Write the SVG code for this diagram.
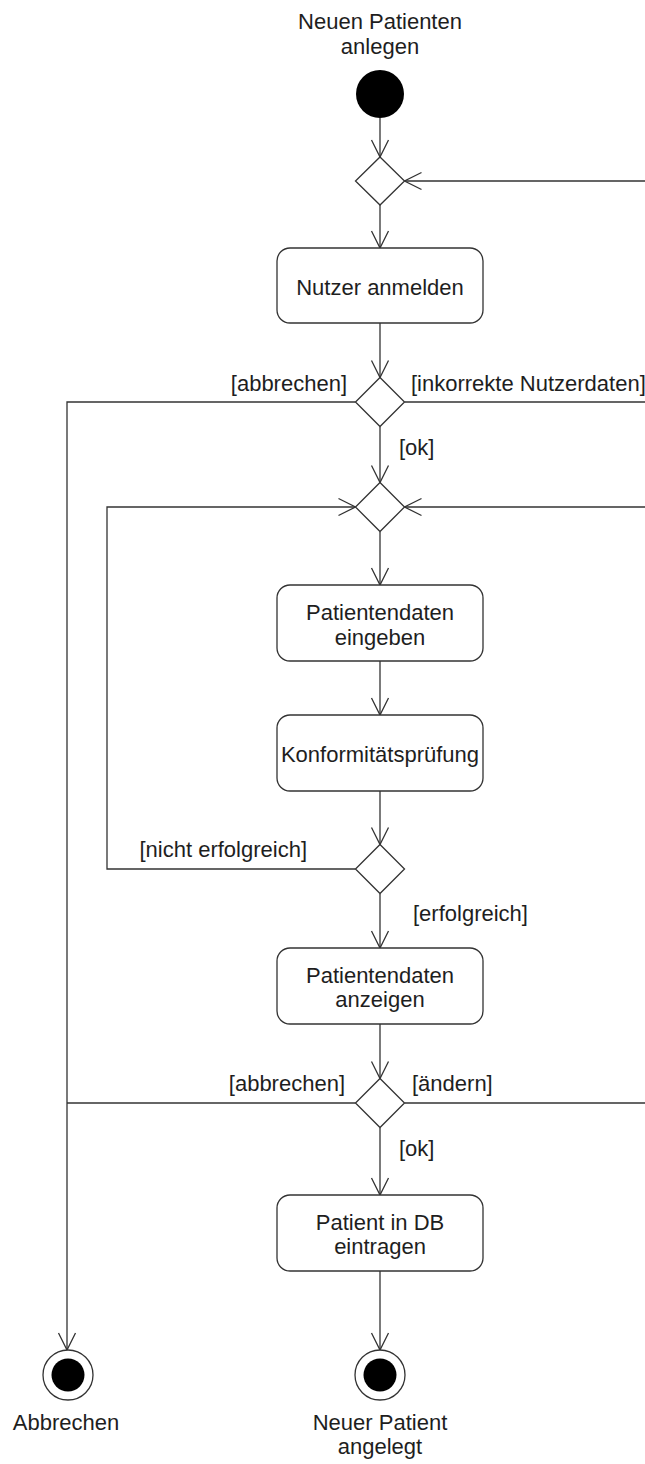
<svg xmlns="http://www.w3.org/2000/svg" width="645" height="1464" viewBox="0 0 645 1464">
<style>
text{font-family:"Liberation Sans",Arial,sans-serif;font-size:22px;fill:#1e1e1e}
.c{text-anchor:middle}
.e{text-anchor:end}
.box{fill:#fff;stroke:#333;stroke-width:1.3}
.dia{fill:#fff;stroke:#333;stroke-width:1.3}
.edge{fill:none;stroke:#333;stroke-width:1.3;marker-end:url(#arr)}
.plain{fill:none;stroke:#333;stroke-width:1.3}
</style>
<defs>
<marker id="arr" markerUnits="userSpaceOnUse" markerWidth="24" markerHeight="24" viewBox="-20 -12 24 24" refX="0" refY="0" orient="auto">
<path d="M-17,-8.5 L0,0 L-17,8.5" fill="none" stroke="#333" stroke-width="1.3"/>
</marker>
</defs>
<rect width="645" height="1464" fill="#fff"/>
<g id="connectors">
<path class="edge" d="M380,118 V157"/>
<path class="edge" d="M380,205 V248"/>
<path class="edge" d="M380,323 V377.5"/>
<path class="edge" d="M404.5,402 H652 V181 H404.5"/>
<path class="edge" d="M355.5,402 H67 V1350"/>
<path class="edge" d="M380,426.5 V482.5"/>
<path class="edge" d="M380,531.5 V585"/>
<path class="edge" d="M380,661 V715"/>
<path class="edge" d="M380,791 V844.5"/>
<path class="edge" d="M355.5,869 H107 V507 H355.5"/>
<path class="edge" d="M380,893.5 V948"/>
<path class="edge" d="M380,1024 V1078.5"/>
<path class="plain" d="M355.5,1103 H67"/>
<path class="edge" d="M404.5,1103 H652 V507 H404.5"/>
<path class="edge" d="M380,1127.5 V1195"/>
<path class="edge" d="M380,1271 V1350"/>
<text class="e" x="347" y="391">[abbrechen]</text>
<text x="411" y="391">[inkorrekte Nutzerdaten]</text>
<text x="399" y="455">[ok]</text>
<text class="e" x="307" y="857">[nicht erfolgreich]</text>
<text x="413" y="921">[erfolgreich]</text>
<text class="e" x="345" y="1091">[abbrechen]</text>
<text x="412" y="1091">[ändern]</text>
<text x="399" y="1156">[ok]</text>
</g>
<g id="start">
<text class="c" x="380" y="29">Neuen Patienten</text>
<text class="c" x="380" y="54">anlegen</text>
<circle cx="380" cy="94" r="24" fill="#000"/>
</g>
<g id="merge1"><polygon class="dia" points="380,157 404.5,181 380,205 355.5,181"/></g>
<g id="nutzer-anmelden">
<rect class="box" x="277" y="248" width="206" height="75" rx="13"/>
<text class="c" x="380" y="295">Nutzer anmelden</text>
</g>
<g id="decision1"><polygon class="dia" points="380,377.5 404.5,402 380,426.5 355.5,402"/></g>
<g id="merge2"><polygon class="dia" points="380,482.5 404.5,507 380,531.5 355.5,507"/></g>
<g id="patientendaten-eingeben">
<rect class="box" x="277" y="585" width="206" height="76" rx="13"/>
<text class="c" x="380" y="620">Patientendaten</text>
<text class="c" x="380" y="645">eingeben</text>
</g>
<g id="konformitaetspruefung">
<rect class="box" x="277" y="715" width="206" height="76" rx="13"/>
<text class="c" x="380" y="762">Konformitätsprüfung</text>
</g>
<g id="decision2"><polygon class="dia" points="380,844.5 404.5,869 380,893.5 355.5,869"/></g>
<g id="patientendaten-anzeigen">
<rect class="box" x="277" y="948" width="206" height="76" rx="13"/>
<text class="c" x="380" y="983">Patientendaten</text>
<text class="c" x="380" y="1007">anzeigen</text>
</g>
<g id="decision3"><polygon class="dia" points="380,1078.5 404.5,1103 380,1127.5 355.5,1103"/></g>
<g id="patient-in-db">
<rect class="box" x="277" y="1195" width="206" height="76" rx="13"/>
<text class="c" x="380" y="1230">Patient in DB</text>
<text class="c" x="380" y="1254">eintragen</text>
</g>
<g id="end-abbrechen">
<circle cx="68" cy="1375" r="25" fill="#fff" stroke="#333" stroke-width="1.3"/>
<circle cx="68" cy="1375" r="16.5" fill="#000"/>
<text class="c" x="66" y="1430">Abbrechen</text>
</g>
<g id="end-angelegt">
<circle cx="380" cy="1375" r="25" fill="#fff" stroke="#333" stroke-width="1.3"/>
<circle cx="380" cy="1375" r="16.5" fill="#000"/>
<text class="c" x="380" y="1430">Neuer Patient</text>
<text class="c" x="380" y="1454">angelegt</text>
</g>
</svg>
